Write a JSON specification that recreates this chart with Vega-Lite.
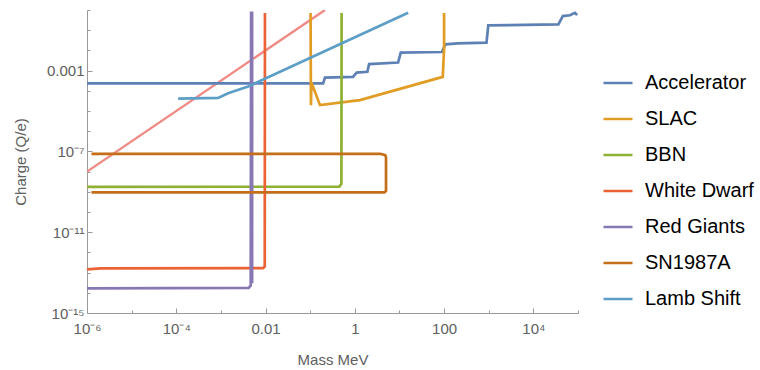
{
  "$schema": "https://vega.github.io/schema/vega-lite/v6.json",
  "autosize": {"type": "none"},
  "padding": {"left": 87, "top": 10, "right": 182, "bottom": 57},
  "width": 491,
  "height": 303,
  "background": "white",
  "config": {
    "view": {"stroke": null},
    "font": "Liberation Sans",
    "axis": {
      "domainColor": "#9a9a9a",
      "tickColor": "#9a9a9a",
      "labelColor": "#606060",
      "titleColor": "#606060",
      "labelFont": "Liberation Sans",
      "titleFont": "Liberation Sans",
      "labelFontSize": 15,
      "titleFontSize": 15,
      "titleFontWeight": "normal",
      "grid": false,
      "labelFlush": false,
      "labelOverlap": false
    },
    "legend": {
      "symbolType": "stroke",
      "symbolSize": 841,
      "symbolStrokeWidth": 2.5,
      "labelFontSize": 20,
      "labelFont": "Liberation Sans",
      "labelColor": "#000000",
      "rowPadding": 10,
      "labelOffset": 11,
      "padding": 0
    }
  },
  "data": {
    "values": [
      {"series": "Pink", "i": 0, "m": 1e-6, "q": 1e-8},
      {"series": "Pink", "i": 1, "m": 0.215, "q": 1.0},

      {"series": "Accelerator", "i": 0, "m": 1e-6, "q": 2.34e-4},
      {"series": "Accelerator", "i": 1, "m": 0.195, "q": 2.34e-4},
      {"series": "Accelerator", "i": 2, "m": 0.214, "q": 4.47e-4},
      {"series": "Accelerator", "i": 3, "m": 0.912, "q": 4.9e-4},
      {"series": "Accelerator", "i": 4, "m": 1.10, "q": 7.94e-4},
      {"series": "Accelerator", "i": 5, "m": 1.91, "q": 8.71e-4},
      {"series": "Accelerator", "i": 6, "m": 2.09, "q": 2.09e-3},
      {"series": "Accelerator", "i": 7, "m": 9.33, "q": 2.51e-3},
      {"series": "Accelerator", "i": 8, "m": 10.7, "q": 7.76e-3},
      {"series": "Accelerator", "i": 9, "m": 89, "q": 8.3e-3},
      {"series": "Accelerator", "i": 10, "m": 107, "q": 0.02},
      {"series": "Accelerator", "i": 11, "m": 200, "q": 0.0224},
      {"series": "Accelerator", "i": 12, "m": 891, "q": 0.024},
      {"series": "Accelerator", "i": 13, "m": 977, "q": 0.174},
      {"series": "Accelerator", "i": 14, "m": 36300, "q": 0.195},
      {"series": "Accelerator", "i": 15, "m": 45700, "q": 0.5},
      {"series": "Accelerator", "i": 16, "m": 66100, "q": 0.55},
      {"series": "Accelerator", "i": 17, "m": 85100, "q": 0.72},
      {"series": "Accelerator", "i": 18, "m": 95500, "q": 0.56},

      {"series": "SLAC", "i": 0, "m": 0.102, "q": 0.72},
      {"series": "SLAC", "i": 1, "m": 0.104, "q": 1.95e-5},
      {"series": "SLAC", "i": 2, "m": 0.1065, "q": 2.6e-4},
      {"series": "SLAC", "i": 3, "m": 0.166, "q": 1.95e-5},
      {"series": "SLAC", "i": 4, "m": 1.30, "q": 3.47e-5},
      {"series": "SLAC", "i": 5, "m": 93.3, "q": 4.9e-4},
      {"series": "SLAC", "i": 6, "m": 100, "q": 0.0115},
      {"series": "SLAC", "i": 7, "m": 100, "q": 0.72},

      {"series": "BBN", "i": 0, "m": 1e-6, "q": 1.74e-9},
      {"series": "BBN", "i": 1, "m": 0.45, "q": 1.8e-9},
      {"series": "BBN", "i": 2, "m": 0.5, "q": 2.5e-9},
      {"series": "BBN", "i": 3, "m": 0.506, "q": 0.72},

      {"series": "White Dwarf", "i": 0, "m": 1e-6, "q": 1.45e-13},
      {"series": "White Dwarf", "i": 1, "m": 2e-6, "q": 1.62e-13},
      {"series": "White Dwarf", "i": 2, "m": 0.0088, "q": 1.66e-13},
      {"series": "White Dwarf", "i": 3, "m": 0.0096, "q": 2.0e-13},
      {"series": "White Dwarf", "i": 4, "m": 0.0097, "q": 0.72},

      {"series": "Red Giants", "i": 0, "m": 1e-6, "q": 1.65e-14},
      {"series": "Red Giants", "i": 1, "m": 0.0042, "q": 1.75e-14},
      {"series": "Red Giants", "i": 2, "m": 0.00465, "q": 2.3e-14},
      {"series": "Red Giants", "i": 3, "m": 0.00475, "q": 0.72},
      {"series": "Red Giants", "i": 4, "m": 0.005, "q": 0.72},
      {"series": "Red Giants", "i": 5, "m": 0.005, "q": 3e-14},

      {"series": "SN1987A", "i": 0, "m": 1.26e-6, "q": 7.6e-8},
      {"series": "SN1987A", "i": 1, "m": 3.7, "q": 7.6e-8},
      {"series": "SN1987A", "i": 2, "m": 4.8, "q": 6.5e-8},
      {"series": "SN1987A", "i": 3, "m": 5.0, "q": 5e-8},
      {"series": "SN1987A", "i": 4, "m": 5.0, "q": 1.1e-9},
      {"series": "SN1987A", "i": 5, "m": 4.6, "q": 9.3e-10},
      {"series": "SN1987A", "i": 6, "m": 1.26e-6, "q": 9.3e-10},

      {"series": "Lamb Shift", "i": 0, "m": 1.1e-4, "q": 4.14e-5},
      {"series": "Lamb Shift", "i": 1, "m": 8.65e-4, "q": 4.47e-5},
      {"series": "Lamb Shift", "i": 2, "m": 1.45e-3, "q": 7.6e-5},
      {"series": "Lamb Shift", "i": 3, "m": 4.07e-3, "q": 1.62e-4},
      {"series": "Lamb Shift", "i": 4, "m": 15.7, "q": 0.724}
    ]
  },
  "encoding": {
    "x": {
      "field": "m", "type": "quantitative",
      "scale": {"type": "log", "domain": [1e-6, 1e5], "nice": false},
      "axis": {
        "title": "Mass MeV",
        "titlePadding": 14,
        "values": [1e-6, 1e-5, 1e-4, 1e-3, 1e-2, 1e-1, 1, 10, 100, 1000, 10000, 100000],
        "labelExpr": "{'-6':'10⁻⁶','-4':'10⁻⁴','-2':'0.01','0':'1','2':'100','4':'10⁴'}['' + round(log(datum.value)/LN10)] || ''",
        "tickSize": {"condition": {"test": "indexof([-6,-4,-2,0,2,4], round(log(datum.value)/LN10)) >= 0", "value": -5}, "value": -3},
        "labelPadding": 13
      }
    },
    "y": {
      "field": "q", "type": "quantitative",
      "scale": {"type": "log", "domain": [1e-15, 1], "nice": false},
      "axis": {
        "title": "Charge (Q/e)",
        "titlePadding": 18,
        "values": [1e-15, 1e-14, 1e-13, 1e-12, 1e-11, 1e-10, 1e-9, 1e-8, 1e-7, 1e-6, 1e-5, 1e-4, 1e-3, 1e-2, 1e-1, 1],
        "labelExpr": "{'-15':'10⁻¹⁵','-11':'10⁻¹¹','-7':'10⁻⁷','-3':'0.001'}['' + round(log(datum.value)/LN10)] || ''",
        "tickSize": {"condition": {"test": "indexof([-15,-11,-7,-3], round(log(datum.value)/LN10)) >= 0", "value": -5}, "value": -3},
        "labelPadding": 8
      }
    },
    "order": {"field": "i", "type": "quantitative"}
  },
  "layer": [
    {
      "transform": [{"filter": "datum.series === 'Pink'"}],
      "mark": {"type": "line", "clip": true, "strokeWidth": 2.4, "color": "#F08A84"}
    },
    {
      "transform": [{"filter": "datum.series !== 'Pink'"}],
      "mark": {"type": "line", "clip": true, "strokeWidth": 2.7},
      "encoding": {
        "color": {
          "field": "series", "type": "nominal",
          "scale": {
            "domain": ["Accelerator", "SLAC", "BBN", "White Dwarf", "Red Giants", "SN1987A", "Lamb Shift"],
            "range": ["#5E81B5", "#E19C24", "#8FB032", "#EB6235", "#8778B3", "#C56E1A", "#5D9EC7"]
          },
          "legend": {"title": null, "orient": "none", "legendX": 515, "legendY": 57}
        }
      }
    }
  ]
}
